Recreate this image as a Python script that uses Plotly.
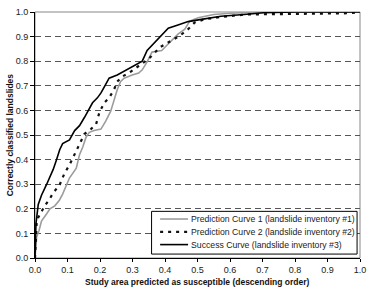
import plotly.graph_objects as go

# Prediction Curve 1 (landslide inventory #1)
pred1_x = [0, 0.002, 0.005, 0.012, 0.02, 0.036, 0.046, 0.061, 0.075, 0.085, 0.096, 0.106, 0.127, 0.137,
           0.147, 0.157, 0.167, 0.182, 0.203, 0.218, 0.233, 0.243, 0.253, 0.263, 0.274, 0.299, 0.319, 0.33,
           0.345, 0.36, 0.39, 0.405, 0.426, 0.44, 0.461, 0.476, 0.502, 0.55, 0.6, 0.7, 1.0]
pred1_y = [0, 0.05, 0.085, 0.11, 0.15, 0.18, 0.2, 0.212, 0.235, 0.26, 0.298, 0.325, 0.365, 0.42,
           0.451, 0.491, 0.511, 0.518, 0.524, 0.557, 0.597, 0.644, 0.684, 0.717, 0.731, 0.744, 0.752, 0.765,
           0.797, 0.837, 0.843, 0.864, 0.89, 0.91, 0.93, 0.963, 0.977, 0.99, 0.995, 1.0, 1.0]

# Prediction Curve 2 (landslide inventory #2)
pred2_x = [0, 0.002, 0.005, 0.01, 0.02, 0.03, 0.045, 0.056, 0.076, 0.091, 0.106, 0.116, 0.127, 0.137,
           0.152, 0.172, 0.188, 0.198, 0.213, 0.228, 0.243, 0.253, 0.268, 0.294, 0.32, 0.35, 0.385, 0.41,
           0.446, 0.471, 0.491, 0.52, 0.57, 0.65, 0.8, 0.97, 1.0]
pred2_y = [0, 0.07, 0.14, 0.165, 0.19, 0.212, 0.24, 0.265, 0.298, 0.345, 0.378, 0.405, 0.438, 0.464,
           0.504, 0.524, 0.544, 0.591, 0.631, 0.651, 0.684, 0.717, 0.737, 0.757, 0.78, 0.81, 0.857, 0.877,
           0.904, 0.93, 0.957, 0.97, 0.98, 0.99, 0.992, 0.995, 1.0]

# Success Curve (landslide inventory #3)
succ_x = [0, 0.001, 0.003, 0.01, 0.02, 0.036, 0.046, 0.056, 0.066, 0.076, 0.085, 0.095, 0.106, 0.122,
          0.137, 0.152, 0.165, 0.177, 0.192, 0.203, 0.215, 0.228, 0.253, 0.289, 0.314, 0.33, 0.345, 0.37,
          0.39, 0.41, 0.44, 0.471, 0.512, 0.572, 0.643, 0.704, 0.8, 1.0]
succ_y = [0, 0.072, 0.14, 0.218, 0.255, 0.3, 0.33, 0.36, 0.398, 0.44, 0.465, 0.473, 0.48, 0.518,
          0.538, 0.571, 0.604, 0.631, 0.651, 0.671, 0.70, 0.731, 0.744, 0.77, 0.79, 0.80, 0.844, 0.877,
          0.904, 0.934, 0.947, 0.961, 0.97, 0.983, 0.99, 0.997, 1.0, 1.0]

names = ["Prediction Curve 1 (landslide inventory #1)",
         "Prediction Curve 2 (landslide inventory #2)",
         "Success Curve (landslide inventory #3)"]

tick_vals = [0.0, 0.1, 0.2, 0.3, 0.4, 0.5, 0.6, 0.7, 0.8, 0.9, 1.0]
tick_text = ["0.0", "0.1", "0.2", "0.3", "0.4", "0.5", "0.6", "0.7", "0.8", "0.9", "1.0"]

FONT = "Liberation Sans, Arial, sans-serif"

styles = [dict(color="#9c9c9c", width=1.6),
          dict(color="#111111", width=2.2, dash="3px,5px"),
          dict(color="#000000", width=1.6)]

fig = go.Figure()
for xs, ys, nm, st in zip([pred1_x, pred2_x, succ_x], [pred1_y, pred2_y, succ_y], names, styles):
    fig.add_trace(go.Scatter(x=xs, y=ys, mode="lines", name=nm, line=st, showlegend=False))

shapes = [
    # plot-area frame (gray)
    dict(type="rect", xref="paper", yref="paper", x0=0, y0=0, x1=1, y1=1,
         line=dict(color="#888888", width=1), layer="below"),
    # legend box
    dict(type="rect", xref="paper", yref="paper", x0=0.3587, x1=0.991, y0=0.016, y1=0.1896,
         line=dict(color="#000000", width=1), fillcolor="white", layer="above"),
]
annotations = [
    dict(text="<b>Correctly classified landslides</b>", xref="paper", yref="paper",
         x=-0.076, y=0.5, xanchor="center", yanchor="middle", textangle=-90,
         showarrow=False, font=dict(size=8.5, family=FONT, color="#111111")),
    dict(text="<b>Study area predicted as susceptible (descending order)</b>", xref="paper",
         yref="paper", x=0.5, y=-0.124, xanchor="center", yanchor="bottom",
         showarrow=False, font=dict(size=8.5, family=FONT, color="#111111")),
]
# custom compact legend
leg_y0 = 0.1585
leg_step = 0.052
for i, (nm, st) in enumerate(zip(names, styles)):
    yy = leg_y0 - i * leg_step
    shapes.append(dict(type="line", xref="paper", yref="paper", x0=0.385, x1=0.471, y0=yy, y1=yy,
                       line=st, layer="above"))
    annotations.append(dict(text=nm, xref="paper", yref="paper", x=0.474, y=yy,
                            xanchor="left", yanchor="middle", showarrow=False,
                            font=dict(size=8.7, family=FONT, color="#222222")))

fig.update_layout(
    width=373, height=289,
    margin=dict(l=35, r=9, t=7, b=31),
    paper_bgcolor="white", plot_bgcolor="white",
    font=dict(family=FONT, size=9, color="#222222"),
    showlegend=False,
    shapes=shapes,
    annotations=annotations,
)
fig.update_xaxes(range=[0, 1], tickvals=tick_vals, ticktext=tick_text,
                 showline=True, linecolor="#000000", linewidth=1,
                 ticks="outside", ticklen=3, tickcolor="#000000",
                 showgrid=False, zeroline=False)
fig.update_yaxes(range=[0, 1], tickvals=tick_vals, ticktext=tick_text,
                 showline=True, linecolor="#000000", linewidth=1,
                 ticks="outside", ticklen=4, tickcolor="#000000",
                 showgrid=True, gridcolor="#555555", gridwidth=1, griddash="6px,4px",
                 zeroline=False)

fig.write_html("out.html")
